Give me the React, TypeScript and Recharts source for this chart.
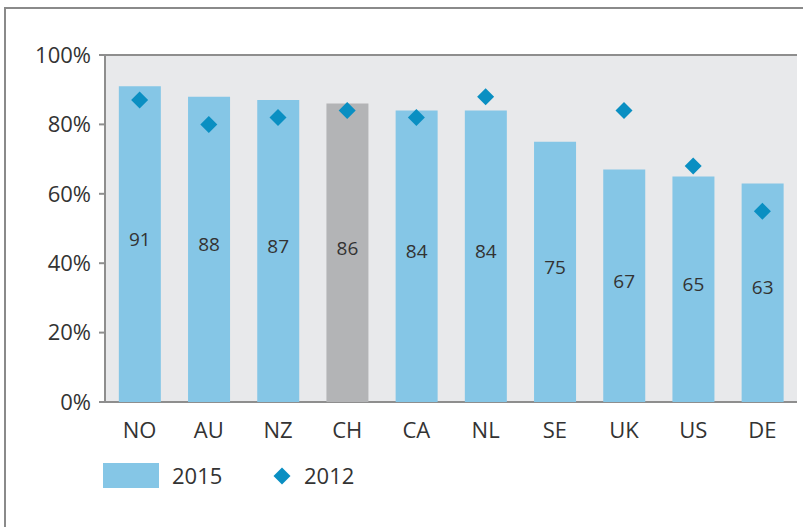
import React from 'react';
import {
  ComposedChart,
  Bar,
  Scatter,
  Cell,
  LabelList,
  XAxis,
  YAxis,
  CartesianGrid,
} from 'recharts';

// Werte
const countries = ['NO', 'AU', 'NZ', 'CH', 'CA', 'NL', 'SE', 'UK', 'US', 'DE'];
const values2015 = [91, 88, 87, 86, 84, 84, 75, 67, 65, 63];
const values2012: (number | null)[] = [87, 80, 82, 84, 82, 88, null, 84, 68, 55];
const yTicks = [0, 20, 40, 60, 80, 100];

const data = countries.map((c, i) => ({
  name: c,
  v2015: values2015[i],
  v2012: values2012[i],
}));

const BAR = '#85C6E6';
const BAR_CH = '#B3B4B6';
const DIAMOND = '#0A8FC2';
const GRID = '#8E8E8E';
const TEXT = '#333333';
const FONT = '"Open Sans", sans-serif';

const Diamond = (props: any) => {
  const { cx, cy, payload } = props;
  if (payload == null || payload.v2012 == null || cx == null || cy == null) return null;
  const r = 8.5;
  return (
    <polygon
      points={`${cx},${cy - r} ${cx + r},${cy} ${cx},${cy + r} ${cx - r},${cy}`}
      fill={DIAMOND}
    />
  );
};

const LegendBox = () => (
  <div
    style={{
      position: 'absolute',
      left: 0,
      top: 463,
      width: 803,
      height: 30,
      fontFamily: FONT,
      fontSize: 22,
      color: TEXT,
    }}
  >
    <div style={{ position: 'absolute', left: 103, top: 0, width: 56, height: 25, background: BAR }} />
    <span style={{ position: 'absolute', left: 172, top: -3, lineHeight: '30px' }}>2015</span>
    <svg style={{ position: 'absolute', left: 273, top: 4 }} width={18} height={18}>
      <polygon points="9,0.5 17.5,9 9,17.5 0.5,9" fill={DIAMOND} />
    </svg>
    <span style={{ position: 'absolute', left: 304, top: -3, lineHeight: '30px' }}>2012</span>
  </div>
);

const App: React.FC = () => {
  return (
    <div style={{ position: 'absolute', left: 0, top: 0, width: 803, height: 527, background: '#fff' }}>
      <div
        style={{
          position: 'absolute',
          left: 4,
          top: 7,
          width: 799,
          height: 520,
          borderTop: '2px solid #8A8A8A',
          borderLeft: '2px solid #8A8A8A',
          boxSizing: 'border-box',
        }}
      />
      <ComposedChart
        width={803}
        height={527}
        data={data}
        margin={{ top: 55, right: 6, left: 0, bottom: 95 }}
        barCategoryGap="20%"
        style={{ position: 'absolute', left: 0, top: 0 }}
      >
        <CartesianGrid vertical={false} fill="#E8E9EB" stroke={GRID} strokeWidth={2} />
        <XAxis
          dataKey="name"
          height={30}
          axisLine={false}
          tickLine={false}
          tick={{ fill: TEXT, fontSize: 22, fontFamily: FONT }}
          tickMargin={14}
        />
        <YAxis
          yAxisId="left"
          width={105}
          domain={[0, 100]}
          ticks={yTicks}
          interval={0}
          tickFormatter={(v: number) => `${v}%`}
          axisLine={{ stroke: GRID, strokeWidth: 2 }}
          tickLine={{ stroke: GRID, strokeWidth: 2 }}
          tickSize={6}
          tickMargin={8}
          tick={{ fill: TEXT, fontSize: 22, fontFamily: FONT }}
        />
        <YAxis
          yAxisId="right"
          orientation="right"
          width={0}
          domain={[0, 100]}
          ticks={yTicks}
          tick={false}
          tickLine={false}
          axisLine={{ stroke: GRID, strokeWidth: 2 }}
        />
        <Bar yAxisId="left" dataKey="v2015" name="2015" isAnimationActive={false}>
          {data.map((d) => (
            <Cell key={d.name} fill={d.name === 'CH' ? BAR_CH : BAR} />
          ))}
          <LabelList
            dataKey="v2015"
            position="center"
            dy={-5}
            fill={TEXT}
            fontSize={19}
            fontFamily={FONT}
          />
        </Bar>
        <Scatter
          yAxisId="left"
          dataKey="v2012"
          name="2012"
          fill={DIAMOND}
          shape={<Diamond />}
          isAnimationActive={false}
        />
      </ComposedChart>
      <LegendBox />
    </div>
  );
};

export default App;
